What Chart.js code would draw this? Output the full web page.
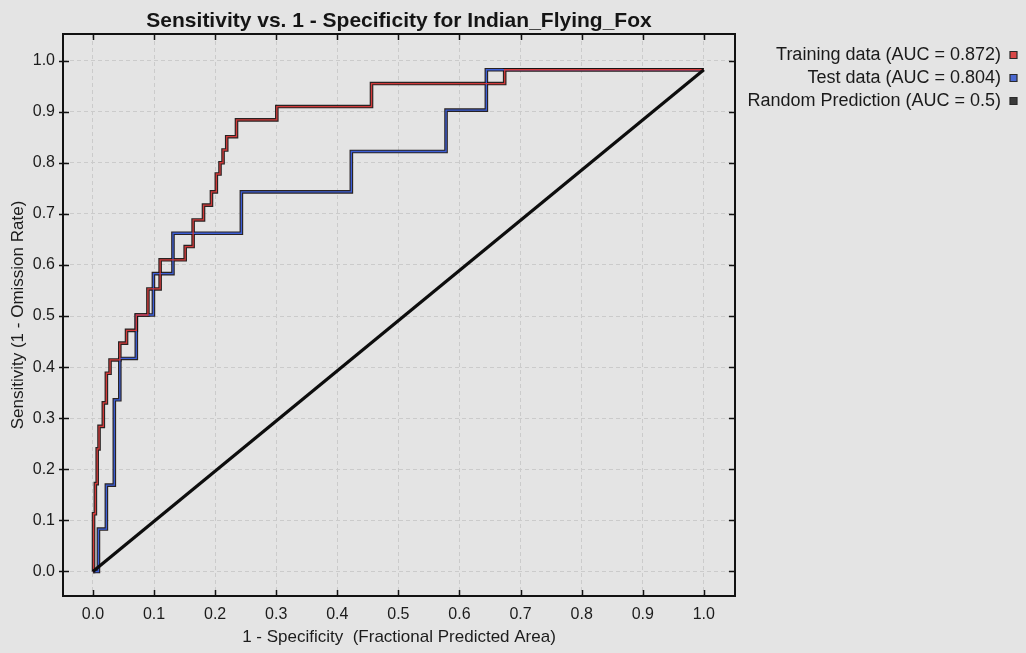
<!DOCTYPE html>
<html>
<head>
<meta charset="utf-8">
<script src="https://cdn.jsdelivr.net/npm/chart.js@4.4.1/dist/chart.umd.min.js"></script>
<style>
  html, body { margin: 0; padding: 0; background: #e4e4e4; }
  #wrap { width: 1026px; height: 653px; }
</style>
</head>
<body>
<div id="wrap"><canvas id="c" width="1026" height="653"></canvas></div>
<script>
// ---------- data ----------
const chartTitle = 'Sensitivity vs. 1 - Specificity for Indian_Flying_Fox';
const xAxisTitle = '1 - Specificity  (Fractional Predicted Area)';
const yAxisTitle = 'Sensitivity (1 - Omission Rate)';
const legendLabels = ['Training data (AUC = 0.872)', 'Test data (AUC = 0.804)', 'Random Prediction (AUC = 0.5)'];
const legendColors = ['#d94848', '#4a68d0', '#3a3a3a'];
const xTickValues = [0.0, 0.1, 0.2, 0.3, 0.4, 0.5, 0.6, 0.7, 0.8, 0.9, 1.0];
const yTickValues = [0.0, 0.1, 0.2, 0.3, 0.4, 0.5, 0.6, 0.7, 0.8, 0.9, 1.0];

// step points: at each fpr the curve rises to the given sensitivity
const trainFpr = [0, 0.001, 0.004, 0.007, 0.010, 0.017, 0.022, 0.028, 0.044, 0.055, 0.071, 0.090, 0.110, 0.151, 0.164, 0.181, 0.194, 0.202, 0.208, 0.213, 0.219, 0.235, 0.301, 0.456, 0.674, 1.0];
const trainTpr = [0, 0.113, 0.172, 0.240, 0.284, 0.330, 0.388, 0.414, 0.447, 0.472, 0.502, 0.553, 0.610, 0.636, 0.688, 0.717, 0.743, 0.778, 0.800, 0.825, 0.851, 0.884, 0.910, 0.955, 0.982, 0.982];
const testFpr = [0, 0.009, 0.022, 0.035, 0.044, 0.071, 0.099, 0.131, 0.243, 0.423, 0.578, 0.644, 1.0];
const testTpr = [0, 0.083, 0.169, 0.336, 0.417, 0.502, 0.583, 0.662, 0.743, 0.822, 0.903, 0.982, 0.982];
const randomFpr = [0, 1.0];
const randomTpr = [0, 0.982];

// ---------- helpers ----------
const FONT = "'Liberation Sans', Arial, Helvetica, sans-serif";
const pts = (xs, ys) => xs.map((x, i) => ({ x: x, y: ys[i] }));
const X_MIN = -0.049, X_MAX = 1.051, Y_MIN = -0.048, Y_MAX = 1.052;
const PLOT_RIGHT = 735;

const frame = {
  id: 'frame',
  afterDraw(chart) {
    const { ctx, chartArea: a, scales } = chart;
    ctx.save();
    ctx.strokeStyle = '#111';
    ctx.lineWidth = 2;
    ctx.strokeRect(a.left, a.top, a.right - a.left, a.bottom - a.top);
    ctx.lineWidth = 1.5;
    ctx.beginPath();
    xTickValues.forEach(v => {
      const px = Math.round(scales.x.getPixelForValue(v)) + 0.5;
      ctx.moveTo(px, a.bottom); ctx.lineTo(px, a.bottom - 6);
      ctx.moveTo(px, a.top); ctx.lineTo(px, a.top + 6);
    });
    yTickValues.forEach(v => {
      const py = Math.round(scales.y.getPixelForValue(v)) + 0.5;
      ctx.moveTo(a.left - 4, py); ctx.lineTo(a.left + 6, py);
      ctx.moveTo(a.right, py); ctx.lineTo(a.right - 6, py);
    });
    ctx.stroke();
    ctx.restore();
  }
};

const shadow = (data) => ({
  label: '', data: data, borderColor: 'rgba(25,18,18,0.92)', borderWidth: 3.6,
  stepped: true, pointRadius: 0, fill: false, order: 10
});

new Chart(document.getElementById('c'), {
  type: 'line',
  data: {
    datasets: [
      { label: legendLabels[2], data: pts(randomFpr, randomTpr), borderColor: '#0d0d0d', borderWidth: 3.2, pointRadius: 0, fill: false, order: 0 },
      { label: legendLabels[0], data: pts(trainFpr, trainTpr), borderColor: '#d23a3a', borderWidth: 1.3, stepped: true, pointRadius: 0, fill: false, order: 1 },
      { label: legendLabels[1], data: pts(testFpr, testTpr), borderColor: '#3d5fd6', borderWidth: 1.3, stepped: true, pointRadius: 0, fill: false, order: 2 },
      shadow(pts(trainFpr, trainTpr)),
      shadow(pts(testFpr, testTpr))
    ]
  },
  options: {
    responsive: false,
    animation: false,
    events: [],
    devicePixelRatio: 1,
    layout: { padding: { left: 0, right: 4, top: 0, bottom: 0 } },
    scales: {
      x: {
        type: 'linear', position: 'bottom', min: X_MIN, max: X_MAX,
        afterBuildTicks: s => { s.ticks = xTickValues.map(v => ({ value: v })); },
        afterFit: s => { s.height = 57; },
        ticks: { autoSkip: false, maxRotation: 0, padding: 9, color: '#1c1c1c',
                 font: { family: FONT, size: 16 }, callback: v => Number(v).toFixed(1) },
        grid: { color: '#cbcbcb', lineWidth: 1, drawTicks: false },
        border: { display: false, dash: [4, 3] },
        title: { display: true, text: xAxisTitle, color: '#1c1c1c', font: { family: FONT, size: 17 }, padding: { top: 0, bottom: 5 } }
      },
      x2: {
        type: 'linear', position: 'top', min: X_MIN, max: X_MAX,
        afterFit: s => { s.height = 34; },
        ticks: { display: false },
        grid: { display: false, drawTicks: false },
        border: { display: false },
        title: { display: true, text: chartTitle, color: '#151515', font: { family: FONT, size: 21, weight: 'bold' }, padding: { top: 9, bottom: 0 } }
      },
      y: {
        type: 'linear', position: 'left', min: Y_MIN, max: Y_MAX,
        afterBuildTicks: s => { s.ticks = yTickValues.map(v => ({ value: v })); },
        afterFit: s => { s.width = 63; },
        ticks: { autoSkip: false, padding: 8, color: '#1c1c1c',
                 font: { family: FONT, size: 16 }, callback: v => Number(v).toFixed(1) },
        grid: { color: '#cbcbcb', lineWidth: 1, drawTicks: false },
        border: { display: false, dash: [4, 3] },
        title: { display: true, text: yAxisTitle, color: '#1c1c1c', font: { family: FONT, size: 17 }, padding: { top: 8, bottom: 0 } }
      },
      y2: {
        type: 'linear', position: 'right', min: Y_MIN, max: Y_MAX,
        afterFit: s => {
          const lw = (s.chart.legend && s.chart.legend.width) ? s.chart.legend.width : 285;
          s.width = Math.max(0, s.chart.width - 4 - PLOT_RIGHT - lw);
        },
        ticks: { display: false },
        grid: { display: false, drawTicks: false },
        border: { display: false }
      }
    },
    plugins: {
      title: { display: false },
      tooltip: { enabled: false },
      legend: {
        position: 'right', align: 'start', rtl: true, fullSize: true, maxWidth: 320,
        title: { display: true, text: '', font: { size: 10 }, padding: { top: 29, bottom: 0 } },
        labels: {
          font: { family: FONT, size: 18 }, color: '#1a1a1a',
          boxWidth: 7, boxHeight: 7, padding: 5,
          generateLabels: () => legendLabels.map((t, i) => ({
            text: t, fillStyle: legendColors[i], strokeStyle: '#2a2a2a', lineWidth: 1.2,
            hidden: false, datasetIndex: i, fontColor: '#1a1a1a'
          }))
        }
      }
    }
  },
  plugins: [frame]
});
</script>
</body>
</html>
